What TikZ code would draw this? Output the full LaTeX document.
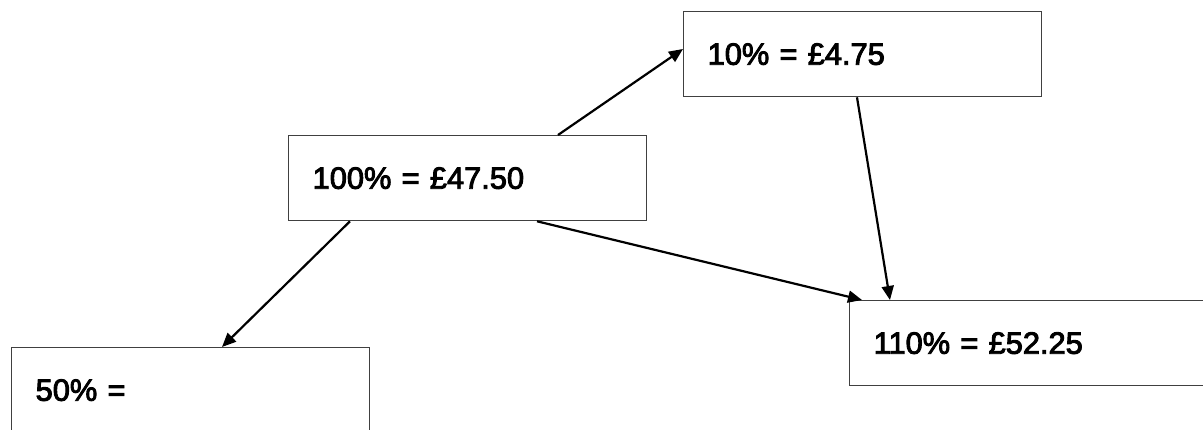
\documentclass[tikz,border=0pt]{standalone}
\usepackage{fontspec}
\setmainfont{Liberation Sans}[UprightFeatures={FakeBold=3}]
\usetikzlibrary{arrows.meta}

\begin{document}
\begin{tikzpicture}[
    x=1pt, y=1pt,
    box/.style={rectangle, draw=black!75, line width=1.3pt, align=left, text width=310pt, inner xsep=24pt, minimum width=358pt, minimum height=85pt, font=\fontsize{30.8}{36}\selectfont, anchor=north west},
    arrow/.style={-{Triangle[length=14pt,width=12pt]}, line width=2.2pt}
]
\useasboundingbox (0,0) rectangle (1203,430);

\node[box] (c100) at (288,295) {100\% = £47.50};
\node[box] (c10) at (683,419) {10\% = £4.75};
\node[box] (c50) at (11,83) {50\% =};
\node[box] (c110) at (849,130) {110\% = £52.25};

\draw[arrow] ([xshift=270pt]c100.north west) -- ([yshift=-38pt]c10.north west);
\draw[arrow] ([xshift=62pt]c100.south west) -- ([xshift=211pt]c50.north west);
\draw[arrow] ([xshift=249pt]c100.south west) -- ([xshift=13pt]c110.north west);
\draw[arrow] ([xshift=174pt]c10.south west) -- ([xshift=41pt]c110.north west);
\end{tikzpicture}
\end{document}
